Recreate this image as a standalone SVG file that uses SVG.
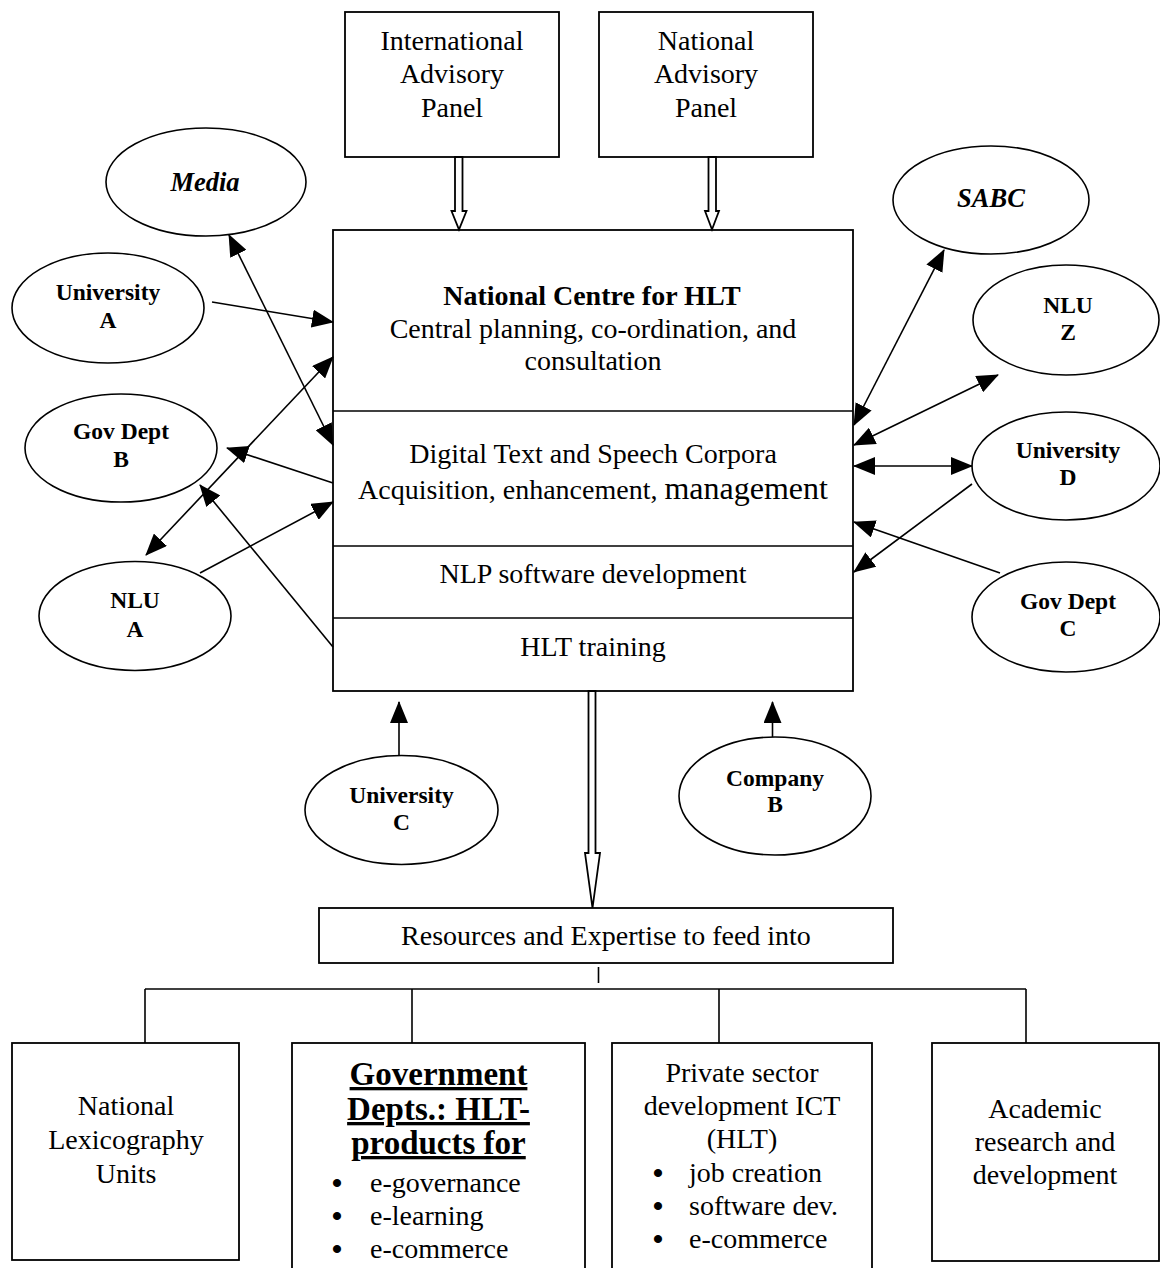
<svg xmlns="http://www.w3.org/2000/svg" width="1160" height="1268" viewBox="0 0 1160 1268">
  <defs>
    <style>
      text { font-family: "Liberation Serif", "Times New Roman", serif; fill: #000; }
      .t { font-size: 28px; text-anchor: middle; }
      .tl { font-size: 28px; }
      .bul { font-size: 30px; font-weight: bold; text-anchor: middle; }
      .lbl { font-size: 23.5px; font-weight: bold; text-anchor: middle; }
      .lbli { font-size: 26.5px; font-weight: bold; font-style: italic; text-anchor: middle; }
      .hd { font-size: 33px; font-weight: bold; text-anchor: middle; text-decoration: underline; }
      .box { fill: #fff; stroke: #000; stroke-width: 1.8; }
      .oval { fill: #fff; stroke: #000; stroke-width: 1.6; }
      .div { stroke: #000; stroke-width: 1.6; }
      .conn line { stroke: #000; stroke-width: 1.6; fill: none; }
      .uni { marker-end: url(#arr); }
      .bi { marker-start: url(#arrS); marker-end: url(#arr); }
      .hollow { fill: #fff; stroke: #000; stroke-width: 1.8; stroke-linejoin: miter; }
      .tree { stroke: #000; stroke-width: 1.6; fill: none; }
    </style>
    <marker id="arr" markerUnits="userSpaceOnUse" markerWidth="22" markerHeight="18" viewBox="0 0 22 18" refX="21" refY="9" orient="auto">
      <path d="M0,0 L22,9 L0,18 z" fill="#000"/>
    </marker>
    <marker id="arrS" markerUnits="userSpaceOnUse" markerWidth="22" markerHeight="18" viewBox="0 0 22 18" refX="21" refY="9" orient="auto-start-reverse">
      <path d="M0,0 L22,9 L0,18 z" fill="#000"/>
    </marker>
  </defs>

  <rect width="1160" height="1268" fill="#fff"/>

  <!-- advisory panels -->
  <g id="intl-panel">
    <rect class="box" x="345" y="12" width="214" height="145"/>
    <text class="t" x="452" y="50">International</text>
    <text class="t" x="452" y="83">Advisory</text>
    <text class="t" x="452" y="117">Panel</text>
  </g>
  <g id="natl-panel">
    <rect class="box" x="599" y="12" width="214" height="145"/>
    <text class="t" x="706" y="50">National</text>
    <text class="t" x="706" y="83">Advisory</text>
    <text class="t" x="706" y="117">Panel</text>
  </g>

  <!-- central HLT centre with its four sections -->
  <g id="centre">
    <rect class="box" x="333" y="230" width="520" height="461"/>
    <line class="div" x1="333" y1="411" x2="853" y2="411"/>
    <line class="div" x1="333" y1="546" x2="853" y2="546"/>
    <line class="div" x1="333" y1="618" x2="853" y2="618" stroke-width="3"/>
    <text class="t" x="592" y="305" font-weight="bold" font-size="30.5">National Centre for HLT</text>
    <text class="t" x="593" y="338">Central planning, co-ordination, and</text>
    <text class="t" x="593" y="370">consultation</text>
    <text class="t" x="593" y="463">Digital Text and Speech Corpora</text>
    <text class="t" x="593" y="499">Acquisition, enhancement, <tspan font-size="32">management</tspan></text>
    <text class="t" x="593" y="583">NLP software development</text>
    <text class="t" x="593" y="656">HLT training</text>
  </g>

  <!-- partner bodies -->
  <g id="media">
    <ellipse class="oval" cx="206" cy="182" rx="100" ry="54"/>
    <text class="lbli" x="205" y="191">Media</text>
  </g>
  <g id="university-a">
    <ellipse class="oval" cx="108" cy="308" rx="96" ry="55"/>
    <text class="lbl" x="108" y="300">University</text>
    <text class="lbl" x="108" y="328">A</text>
  </g>
  <g id="gov-dept-b">
    <ellipse class="oval" cx="121" cy="448" rx="96" ry="54"/>
    <text class="lbl" x="121" y="439">Gov Dept</text>
    <text class="lbl" x="121" y="467">B</text>
  </g>
  <g id="nlu-a">
    <ellipse class="oval" cx="135" cy="616" rx="96" ry="54.5"/>
    <text class="lbl" x="135" y="608">NLU</text>
    <text class="lbl" x="135" y="637">A</text>
  </g>
  <g id="sabc">
    <ellipse class="oval" cx="991" cy="200" rx="98" ry="54"/>
    <text class="lbli" x="991" y="207">SABC</text>
  </g>
  <g id="nlu-z">
    <ellipse class="oval" cx="1066" cy="320" rx="93" ry="55"/>
    <text class="lbl" x="1068" y="313">NLU</text>
    <text class="lbl" x="1068" y="340">Z</text>
  </g>
  <g id="university-d">
    <ellipse class="oval" cx="1066" cy="466" rx="94" ry="54"/>
    <text class="lbl" x="1068" y="458">University</text>
    <text class="lbl" x="1068" y="485">D</text>
  </g>
  <g id="gov-dept-c">
    <ellipse class="oval" cx="1066" cy="617" rx="94" ry="55"/>
    <text class="lbl" x="1068" y="609">Gov Dept</text>
    <text class="lbl" x="1068" y="636">C</text>
  </g>
  <g id="university-c">
    <ellipse class="oval" cx="401.5" cy="810" rx="96.5" ry="54.5"/>
    <text class="lbl" x="401.5" y="803">University</text>
    <text class="lbl" x="401.5" y="830">C</text>
  </g>
  <g id="company-b">
    <ellipse class="oval" cx="775" cy="796" rx="96" ry="59"/>
    <text class="lbl" x="775" y="786">Company</text>
    <text class="lbl" x="775" y="812">B</text>
  </g>

  <!-- outputs -->
  <g id="resources">
    <rect class="box" x="319" y="908" width="574" height="55"/>
    <text class="t" x="606" y="945">Resources and Expertise to feed into</text>
  </g>
  <g id="lexicography">
    <rect class="box" x="12" y="1043" width="227" height="217"/>
    <text class="t" x="126" y="1115">National</text>
    <text class="t" x="126" y="1149">Lexicography</text>
    <text class="t" x="126" y="1183">Units</text>
  </g>
  <g id="government">
    <rect class="box" x="292" y="1043" width="293" height="240"/>
    <text class="hd" x="438.5" y="1085">Government</text>
    <text class="hd" x="438.5" y="1120">Depts.: HLT-</text>
    <text class="hd" x="438.5" y="1154">products for</text>
    <text class="bul" x="337" y="1193">•</text>
    <text class="tl" x="370" y="1192">e-governance</text>
    <text class="bul" x="337" y="1226">•</text>
    <text class="tl" x="370" y="1225">e-learning</text>
    <text class="bul" x="337" y="1259">•</text>
    <text class="tl" x="370" y="1258">e-commerce</text>
  </g>
  <g id="private-sector">
    <rect class="box" x="612" y="1043" width="260" height="240"/>
    <text class="t" x="742" y="1082">Private sector</text>
    <text class="t" x="742" y="1115">development ICT</text>
    <text class="t" x="742" y="1148">(HLT)</text>
    <text class="bul" x="658" y="1183">•</text>
    <text class="tl" x="689" y="1182">job creation</text>
    <text class="bul" x="658" y="1216">•</text>
    <text class="tl" x="689" y="1215">software dev.</text>
    <text class="bul" x="658" y="1249">•</text>
    <text class="tl" x="689" y="1248">e-commerce</text>
  </g>
  <g id="academic">
    <rect class="box" x="932" y="1043" width="227" height="218"/>
    <text class="t" x="1045" y="1118">Academic</text>
    <text class="t" x="1045" y="1151">research and</text>
    <text class="t" x="1045" y="1184">development</text>
  </g>

  <!-- connectors -->
  <g id="connectors" class="conn">
    <!-- hollow block arrows -->
    <polygon class="hollow" points="455,157 455,211 451.5,211 459,229.5 466.5,211 462.5,211 462.5,157"/>
    <polygon class="hollow" points="708.5,157 708.5,211 705,211 712,229.5 719,211 716,211 716,157"/>
    <polygon class="hollow" points="588.5,691 588.5,853 585,853 592.5,908 600,853 595.5,853 595.5,691"/>

    <!-- left side -->
    <line class="uni" x1="212" y1="302" x2="333" y2="322"/>
    <line class="bi" x1="229" y1="235" x2="333" y2="445"/>
    <line class="bi" x1="146" y1="555" x2="333" y2="357"/>
    <line class="uni" x1="333" y1="483" x2="227" y2="448"/>
    <line class="uni" x1="200" y1="573" x2="333" y2="502"/>
    <line class="uni" x1="333" y1="647" x2="200" y2="485"/>

    <!-- right side -->
    <line class="bi" x1="944" y1="250" x2="854" y2="425"/>
    <line class="bi" x1="998" y1="375" x2="854" y2="445"/>
    <line class="bi" x1="854" y1="466" x2="972" y2="466"/>
    <line class="uni" x1="972" y1="484" x2="854" y2="572"/>
    <line class="uni" x1="1000" y1="573" x2="854" y2="522"/>

    <!-- below -->
    <line class="uni" x1="399" y1="756" x2="399" y2="702"/>
    <line class="uni" x1="772.5" y1="737" x2="772.5" y2="702"/>

    <!-- distribution tree -->
    <line class="tree" x1="598.5" y1="967" x2="598.5" y2="983"/>
    <line class="tree" x1="145" y1="989" x2="1026" y2="989"/>
    <line class="tree" x1="145" y1="989" x2="145" y2="1043"/>
    <line class="tree" x1="412" y1="989" x2="412" y2="1043"/>
    <line class="tree" x1="719" y1="989" x2="719" y2="1043"/>
    <line class="tree" x1="1026" y1="989" x2="1026" y2="1043"/>
  </g>
</svg>
